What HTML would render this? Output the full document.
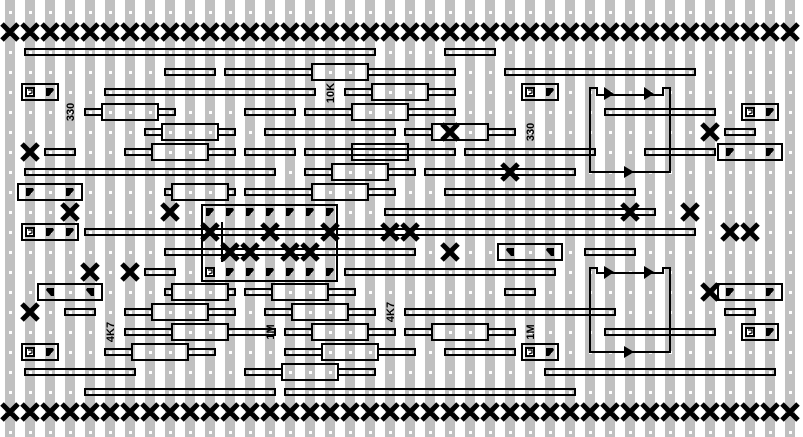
<!DOCTYPE html>
<html><head><meta charset="utf-8"><style>
html,body{margin:0;padding:0;background:#fff;width:803px;height:437px;overflow:hidden}
svg{display:block}
.w{fill:none;stroke:#000;stroke-width:2}
.x{stroke:#000;stroke-width:5;fill:none}
.t{font-family:"Liberation Sans",sans-serif;font-weight:bold;font-size:11px;fill:#000}
</style></head><body>
<svg width="803" height="437" viewBox="0 0 803 437" xmlns="http://www.w3.org/2000/svg">
<defs>
<pattern id="g" width="20" height="20" patternUnits="userSpaceOnUse" y="2">
<rect x="5" y="0" width="10" height="20" fill="#c0c0c0"/>
<rect x="9" y="9" width="3" height="3" fill="#fff"/>
</pattern>
<symbol id="P" overflow="visible"><path d="M-4 -4H3L4 -2L-1 4H-4Z" fill="#000"/></symbol>
<symbol id="Q" overflow="visible"><path d="M-4 -4H3L4 -2L-1 4H-4Z" fill="#000" transform="scale(-1,1)"/></symbol>
<symbol id="S" overflow="visible"><rect x="-5" y="-5" width="10" height="10" fill="#000"/><rect x="-3" y="-3" width="6" height="6" fill="#fff"/><path d="M-2 -2H2V1L-1 2" stroke="#000" stroke-width="1.2" fill="none"/></symbol>
</defs>
<rect width="803" height="437" fill="url(#g)"/>

<g id="xr">
<path class="x" d="M2 24L18 40M18 24L2 40M22 24L38 40M38 24L22 40M42 24L58 40M58 24L42 40M62 24L78 40M78 24L62 40M82 24L98 40M98 24L82 40M102 24L118 40M118 24L102 40M122 24L138 40M138 24L122 40M142 24L158 40M158 24L142 40M162 24L178 40M178 24L162 40M182 24L198 40M198 24L182 40M202 24L218 40M218 24L202 40M222 24L238 40M238 24L222 40M242 24L258 40M258 24L242 40M262 24L278 40M278 24L262 40M282 24L298 40M298 24L282 40M302 24L318 40M318 24L302 40M322 24L338 40M338 24L322 40M342 24L358 40M358 24L342 40M362 24L378 40M378 24L362 40M382 24L398 40M398 24L382 40M402 24L418 40M418 24L402 40M422 24L438 40M438 24L422 40M442 24L458 40M458 24L442 40M462 24L478 40M478 24L462 40M482 24L498 40M498 24L482 40M502 24L518 40M518 24L502 40M522 24L538 40M538 24L522 40M542 24L558 40M558 24L542 40M562 24L578 40M578 24L562 40M582 24L598 40M598 24L582 40M602 24L618 40M618 24L602 40M622 24L638 40M638 24L622 40M642 24L658 40M658 24L642 40M662 24L678 40M678 24L662 40M682 24L698 40M698 24L682 40M702 24L718 40M718 24L702 40M722 24L738 40M738 24L722 40M742 24L758 40M758 24L742 40M762 24L778 40M778 24L762 40M782 24L798 40M798 24L782 40"/>
</g>
<use href="#xr" y="380"/>

<g class="w">
<rect x="25" y="49" width="350" height="6"/><rect x="445" y="49" width="50" height="6"/>
<rect x="165" y="69" width="50" height="6"/><rect x="225" y="69" width="87" height="6"/><rect x="368" y="69" width="87" height="6"/><rect x="505" y="69" width="190" height="6"/>
<rect x="105" y="89" width="210" height="6"/><rect x="345" y="89" width="27" height="6"/><rect x="428" y="89" width="27" height="6"/>
<rect x="85" y="109" width="17" height="6"/><rect x="158" y="109" width="17" height="6"/><rect x="245" y="109" width="50" height="6"/><rect x="305" y="109" width="47" height="6"/><rect x="408" y="109" width="47" height="6"/><rect x="605" y="109" width="110" height="6"/>
<rect x="145" y="129" width="17" height="6"/><rect x="218" y="129" width="17" height="6"/><rect x="265" y="129" width="130" height="6"/><rect x="405" y="129" width="27" height="6"/><rect x="488" y="129" width="27" height="6"/><rect x="725" y="129" width="30" height="6"/>
<rect x="45" y="149" width="30" height="6"/><rect x="125" y="149" width="27" height="6"/><rect x="208" y="149" width="27" height="6"/><rect x="245" y="149" width="50" height="6"/><rect x="305" y="149" width="150" height="6"/><rect x="465" y="149" width="130" height="6"/><rect x="645" y="149" width="70" height="6"/>
<rect x="25" y="169" width="250" height="6"/><rect x="305" y="169" width="27" height="6"/><rect x="388" y="169" width="27" height="6"/><rect x="425" y="169" width="150" height="6"/>
<rect x="165" y="189" width="7" height="6"/><rect x="228" y="189" width="7" height="6"/><rect x="245" y="189" width="67" height="6"/><rect x="368" y="189" width="27" height="6"/><rect x="445" y="189" width="190" height="6"/>
<rect x="385" y="209" width="270" height="6"/>
<rect x="85" y="229" width="610" height="6"/>
<rect x="165" y="249" width="250" height="6"/><rect x="585" y="249" width="50" height="6"/>
<rect x="145" y="269" width="30" height="6"/><rect x="345" y="269" width="210" height="6"/>
<rect x="165" y="289" width="7" height="6"/><rect x="228" y="289" width="7" height="6"/><rect x="245" y="289" width="27" height="6"/><rect x="328" y="289" width="27" height="6"/><rect x="505" y="289" width="30" height="6"/>
<rect x="65" y="309" width="30" height="6"/><rect x="125" y="309" width="27" height="6"/><rect x="208" y="309" width="27" height="6"/><rect x="265" y="309" width="27" height="6"/><rect x="348" y="309" width="27" height="6"/><rect x="405" y="309" width="210" height="6"/><rect x="725" y="309" width="30" height="6"/>
<rect x="125" y="329" width="47" height="6"/><rect x="228" y="329" width="47" height="6"/><rect x="285" y="329" width="27" height="6"/><rect x="368" y="329" width="27" height="6"/><rect x="405" y="329" width="27" height="6"/><rect x="488" y="329" width="27" height="6"/><rect x="605" y="329" width="110" height="6"/>
<rect x="105" y="349" width="27" height="6"/><rect x="188" y="349" width="27" height="6"/><rect x="285" y="349" width="37" height="6"/><rect x="378" y="349" width="37" height="6"/><rect x="445" y="349" width="70" height="6"/>
<rect x="25" y="369" width="110" height="6"/><rect x="245" y="369" width="37" height="6"/><rect x="338" y="369" width="37" height="6"/><rect x="545" y="369" width="230" height="6"/>
<rect x="85" y="389" width="190" height="6"/><rect x="285" y="389" width="290" height="6"/>
</g>
<g class="w">
<rect x="312" y="64" width="56" height="16"/>
<rect x="372" y="84" width="56" height="16"/>
<rect x="102" y="104" width="56" height="16"/><rect x="352" y="104" width="56" height="16"/>
<rect x="162" y="124" width="56" height="16"/><rect x="432" y="124" width="56" height="16"/>
<rect x="152" y="144" width="56" height="16"/><rect x="352" y="144" width="56" height="16"/>
<rect x="332" y="164" width="56" height="16"/>
<rect x="172" y="184" width="56" height="16"/><rect x="312" y="184" width="56" height="16"/>
<rect x="172" y="284" width="56" height="16"/><rect x="272" y="284" width="56" height="16"/>
<rect x="152" y="304" width="56" height="16"/><rect x="292" y="304" width="56" height="16"/>
<rect x="172" y="324" width="56" height="16"/><rect x="312" y="324" width="56" height="16"/><rect x="432" y="324" width="56" height="16"/>
<rect x="132" y="344" width="56" height="16"/><rect x="322" y="344" width="56" height="16"/>
<rect x="282" y="364" width="56" height="16"/>
</g>
<g class="w">
<rect x="22" y="84" width="36" height="16"/><rect x="522" y="84" width="36" height="16"/>
<rect x="742" y="104" width="36" height="16"/><rect x="718" y="144" width="64" height="16"/>
<rect x="18" y="184" width="64" height="16"/><rect x="22" y="224" width="56" height="16"/>
<rect x="498" y="244" width="64" height="16"/><rect x="38" y="284" width="64" height="16"/>
<rect x="718" y="284" width="64" height="16"/><rect x="742" y="324" width="36" height="16"/>
<rect x="22" y="344" width="36" height="16"/><rect x="522" y="344" width="36" height="16"/>
<rect x="202" y="205" width="135" height="76"/>
<path d="M222 222V262"/>
<path d="M590 172V88H597V95H663V88H670V172Z"/>
<path d="M590 352V268H597V273H663V268H670V352Z"/>
</g>
<g fill="#000">
<path d="M604 87L614 94L604 100Z"/><path d="M644 87L654 94L644 100Z"/><path d="M624 166L634 172L624 178Z"/>
<path d="M604 266L614 272L604 279Z"/><path d="M644 266L654 272L644 279Z"/><path d="M624 346L634 352L624 358Z"/>
</g>
<use href="#S" x="30" y="92"/><use href="#P" x="50" y="92"/>
<use href="#S" x="530" y="92"/><use href="#P" x="550" y="92"/>
<use href="#S" x="750" y="112"/><use href="#P" x="770" y="112"/>
<use href="#P" x="730" y="152"/><use href="#P" x="770" y="152"/>
<use href="#P" x="30" y="192"/><use href="#P" x="70" y="192"/>
<use href="#S" x="30" y="232"/><use href="#P" x="50" y="232"/><use href="#P" x="70" y="232"/>
<use href="#Q" x="510" y="252"/><use href="#Q" x="550" y="252"/>
<use href="#Q" x="50" y="292"/><use href="#Q" x="90" y="292"/>
<use href="#P" x="730" y="292"/><use href="#P" x="770" y="292"/>
<use href="#S" x="750" y="332"/><use href="#P" x="770" y="332"/>
<use href="#S" x="30" y="352"/><use href="#P" x="50" y="352"/>
<use href="#S" x="530" y="352"/><use href="#P" x="550" y="352"/>
<use href="#P" x="210" y="212"/><use href="#P" x="230" y="212"/><use href="#P" x="250" y="212"/><use href="#P" x="270" y="212"/><use href="#P" x="290" y="212"/><use href="#P" x="310" y="212"/><use href="#P" x="330" y="212"/>
<use href="#S" x="210" y="272"/><use href="#P" x="230" y="272"/><use href="#P" x="250" y="272"/><use href="#P" x="270" y="272"/><use href="#P" x="290" y="272"/><use href="#P" x="310" y="272"/><use href="#P" x="330" y="272"/>
<path class="x" d="
M442 124L458 140M458 124L442 140
M702 124L718 140M718 124L702 140
M22 144L38 160M38 144L22 160
M502 164L518 180M518 164L502 180
M62 204L78 220M78 204L62 220
M162 204L178 220M178 204L162 220
M622 204L638 220M638 204L622 220
M682 204L698 220M698 204L682 220
M202 224L218 240M218 224L202 240
M262 224L278 240M278 224L262 240
M322 224L338 240M338 224L322 240
M382 224L398 240M398 224L382 240
M402 224L418 240M418 224L402 240
M722 224L738 240M738 224L722 240
M742 224L758 240M758 224L742 240
M222 244L238 260M238 244L222 260
M242 244L258 260M258 244L242 260
M282 244L298 260M298 244L282 260
M302 244L318 260M318 244L302 260
M442 244L458 260M458 244L442 260
M82 264L98 280M98 264L82 280
M122 264L138 280M138 264L122 280
M702 284L718 300M718 284L702 300
M22 304L38 320M38 304L22 320"/>
<text class="t" transform="translate(74,112) rotate(-90)" text-anchor="middle">330</text>
<text class="t" transform="translate(334,93) rotate(-90)" text-anchor="middle">10K</text>
<text class="t" transform="translate(534,132) rotate(-90)" text-anchor="middle">330</text>
<text class="t" transform="translate(114,332) rotate(-90)" text-anchor="middle">4K7</text>
<text class="t" transform="translate(274,332) rotate(-90)" text-anchor="middle">1M</text>
<text class="t" transform="translate(394,312) rotate(-90)" text-anchor="middle">4K7</text>
<text class="t" transform="translate(534,332) rotate(-90)" text-anchor="middle">1M</text>
</svg>
</body></html>
